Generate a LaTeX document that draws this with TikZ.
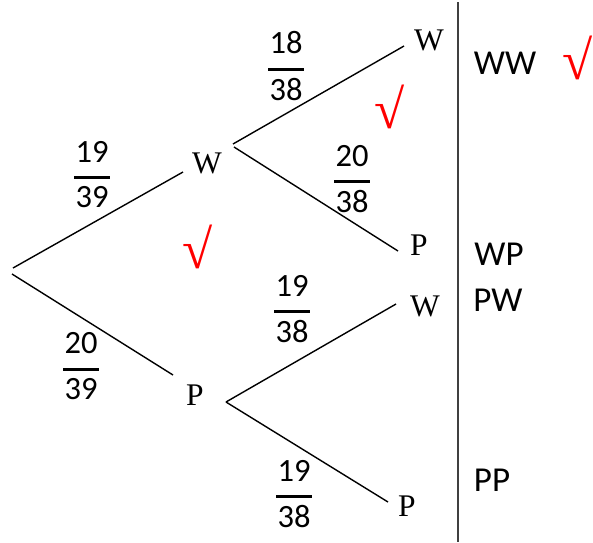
\documentclass[tikz,border=0pt]{standalone}
\usepackage{fontspec}
\setmainfont{Liberation Serif}
\newfontfamily\calib{Carlito}
\newcommand\fr[2]{\vbox{\hbox to 36pt{\hss#1\hss}\kern13.5pt\hrule height 3pt\kern7.5pt\hbox to 36pt{\hss#2\hss}}}
\begin{document}
\begin{tikzpicture}[x=1pt,y=-1pt,
 leaf/.style={font=\fontsize{31.5}{31.5}\selectfont, inner sep=0pt},
 outc/.style={font=\calib\fontsize{35}{35}\selectfont, inner sep=0pt},
 fraclab/.style={font=\calib\fontsize{32.5}{32.5}\selectfont, inner sep=0pt},
 tick/.style={text=red, font=\fontsize{55}{55}\selectfont, inner sep=0pt},
 branch/.style={line width=1.4pt, black},
 divider/.style={line width=1.8pt, black!75}]
\useasboundingbox (0,0) rectangle (593,542);
% tree nodes
\node[leaf] (w1) at (207,163) {W};
\node[leaf] (p1) at (195,395) {P};
\node[leaf] (ww) at (429,40) {W};
\node[leaf] (wp) at (419,245) {P};
\node[leaf] (pw) at (425,306) {W};
\node[leaf] (pp) at (407,506) {P};
% connector ends
\coordinate (rootU) at (13,268);
\coordinate (rootL) at (12,274);
\coordinate (w1in) at (183,172);
\coordinate (w1oa) at (233,144);
\coordinate (w1ob) at (234,147);
\coordinate (p1in) at (173,375);
\coordinate (p1o) at (226,402);
\coordinate (wwin) at (404,46);
\coordinate (wpin) at (398,251);
\coordinate (pwin) at (396,304);
\coordinate (ppin) at (388,502);
\coordinate (vt) at (458,2);
\coordinate (vb) at (458,542);
% branches
\draw[branch] (rootU) -- (w1in);
\draw[branch] (rootL) -- (p1in);
\draw[branch] (w1oa) -- (wwin);
\draw[branch] (w1ob) -- (wpin);
\draw[branch] (p1o) -- (pwin);
\draw[branch] (p1o) -- (ppin);
\draw[divider] (vt) -- (vb);
% fractions
\node[fraclab] (f1) at (92,175) {\fr{19}{39}};
\node[fraclab] (f2) at (81,366) {\fr{20}{39}};
\node[fraclab] (f3) at (286,66) {\fr{18}{38}};
\node[fraclab] (f4) at (352,179) {\fr{20}{38}};
\node[fraclab] (f5) at (292,309) {\fr{19}{38}};
\node[fraclab] (f6) at (294,494) {\fr{19}{38}};
% outcomes
\node[outc] (oww) at (505,63.5) {WW};
\node[outc] (owp) at (499,254) {WP};
\node[outc] (opw) at (498,300) {PW};
\node[outc] (opp) at (492,480) {PP};
% ticks
\node[tick] (t1) at (578,58) {√};
\node[tick] (t2) at (390,107) {√};
\node[tick] (t3) at (198,247) {√};
\end{tikzpicture}
\end{document}
